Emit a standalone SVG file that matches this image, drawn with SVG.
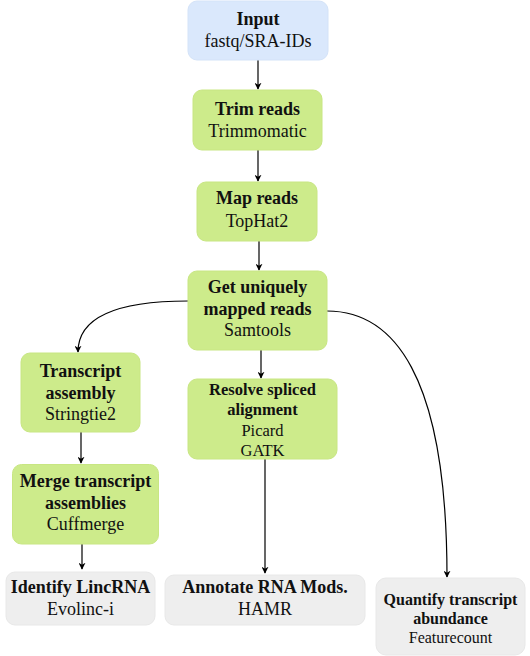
<svg xmlns="http://www.w3.org/2000/svg" width="530" height="656" viewBox="0 0 530 656">
<defs>
<style>
.blue{fill:#dae8fc;stroke:#d4e3f8;stroke-width:1}
.green{fill:#cdeb8b;stroke:#c8e683;stroke-width:1}
.gray{fill:#eeeeee;stroke:#e8e8e8;stroke-width:1}
text{font-family:"Liberation Serif","Times New Roman",serif;fill:#111;text-anchor:middle}
.b{font-weight:bold;font-size:18px}
.r{font-size:18px}
.bs{font-weight:bold;font-size:16.5px}
.rs{font-size:16.5px}
.bq{font-weight:bold;font-size:16px}
.rq{font-size:16px}
.c{fill:none;stroke:#000;stroke-width:1.2}
</style>
<marker id="ah" viewBox="0 0 10 10" refX="9" refY="5" markerWidth="7" markerHeight="7" orient="auto" markerUnits="userSpaceOnUse">
<path d="M0,0 L10,5 L0,10 L3,5 Z" fill="#000"/>
</marker>
</defs>
<g id="connectors">
<path class="c" d="M258,60 L258,89" marker-end="url(#ah)"/>
<path class="c" d="M258,150 L258,181" marker-end="url(#ah)"/>
<path class="c" d="M259,241 L259,270" marker-end="url(#ah)"/>
<path class="c" d="M188,301 C115,301 78,318 78,352" marker-end="url(#ah)"/>
<path class="c" d="M261,350 L261,378" marker-end="url(#ah)"/>
<path class="c" d="M327,311 C392,311 447,372 447,577" marker-end="url(#ah)"/>
<path class="c" d="M81,432 L81,463" marker-end="url(#ah)"/>
<path class="c" d="M265,459 L265,573" marker-end="url(#ah)"/>
<path class="c" d="M82,544 L82,569" marker-end="url(#ah)"/>
</g>
<g id="input">
<rect class="blue" x="188" y="1" width="140" height="59" rx="9"/>
<text class="b" x="258" y="25">Input</text>
<text class="r" x="258" y="47">fastq/SRA-IDs</text>
</g>
<g id="trim">
<rect class="green" x="193" y="90" width="129" height="60" rx="9"/>
<text class="b" x="257.5" y="115">Trim reads</text>
<text class="r" x="257.5" y="137">Trimmomatic</text>
</g>
<g id="map">
<rect class="green" x="197" y="182" width="120" height="59" rx="9"/>
<text class="b" x="257" y="204">Map reads</text>
<text class="r" x="257" y="227">TopHat2</text>
</g>
<g id="unique">
<rect class="green" x="188" y="271" width="139" height="79" rx="9"/>
<text class="b" x="257.5" y="293">Get uniquely</text>
<text class="b" x="257.5" y="315">mapped reads</text>
<text class="r" x="257.5" y="336">Samtools</text>
</g>
<g id="assembly">
<rect class="green" x="21" y="353" width="119" height="79" rx="9"/>
<text class="b" x="80.5" y="377">Transcript</text>
<text class="b" x="80.5" y="399">assembly</text>
<text class="r" x="80.5" y="420">Stringtie2</text>
</g>
<g id="resolve">
<rect class="green" x="188" y="379" width="149" height="80" rx="9"/>
<text class="bs" x="262.5" y="395">Resolve spliced</text>
<text class="bs" x="262.5" y="415">alignment</text>
<text class="rs" x="262.5" y="436">Picard</text>
<text class="rs" x="262.5" y="456">GATK</text>
</g>
<g id="merge">
<rect class="green" x="12.5" y="464.5" width="146" height="79.5" rx="9"/>
<text class="b" x="85.5" y="487">Merge transcript</text>
<text class="b" x="85.5" y="509">assemblies</text>
<text class="r" x="85.5" y="530">Cuffmerge</text>
</g>
<g id="lincrna">
<rect class="gray" x="6" y="572" width="149" height="53" rx="9"/>
<text class="b" x="80.5" y="593">Identify LincRNA</text>
<text class="r" x="80.5" y="615">Evolinc-i</text>
</g>
<g id="annotate">
<rect class="gray" x="165" y="575" width="200" height="50" rx="9"/>
<text class="b" x="265" y="593">Annotate RNA Mods.</text>
<text class="r" x="265" y="615">HAMR</text>
</g>
<g id="quantify">
<rect class="gray" x="376" y="578" width="149" height="77" rx="10"/>
<text class="bq" x="450.5" y="605">Quantify transcript</text>
<text class="bq" x="450.5" y="624">abundance</text>
<text class="rq" x="450.5" y="643">Featurecount</text>
</g>
</svg>
